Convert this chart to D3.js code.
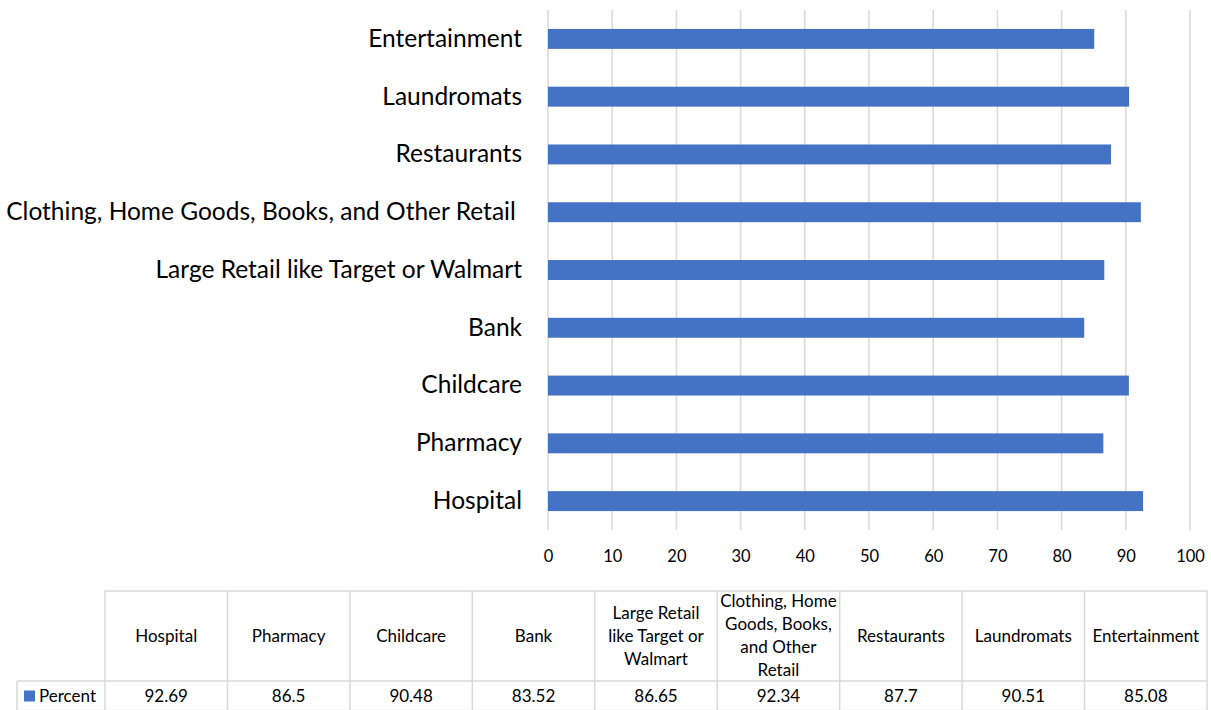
<!DOCTYPE html>
<html>
<head>
<meta charset="utf-8">
<script src="https://cdn.jsdelivr.net/npm/d3@7"></script>
<style>
  html, body { margin: 0; padding: 0; background: #fff; }
  svg { display: block; font-family: Lato, "Open Sans", sans-serif; }
</style>
</head>
<body>
<svg id="chart" width="1211" height="710"></svg>
<script>
// Share of respondents (percent) by type of place
const categories = ["Hospital", "Pharmacy", "Childcare", "Bank", "Large Retail like Target or Walmart",
  "Clothing, Home Goods, Books, and Other Retail ", "Restaurants", "Laundromats", "Entertainment"];
const percentValues = [92.69, 86.5, 90.48, 83.52, 86.65, 92.34, 87.7, 90.51, 85.08];
const valueLabels = ["92.69", "86.5", "90.48", "83.52", "86.65", "92.34", "87.7", "90.51", "85.08"];
const tableHeaders = ["Hospital", "Pharmacy", "Childcare", "Bank", "Large Retail\nlike Target or\nWalmart",
  "Clothing, Home\nGoods, Books,\nand Other\nRetail", "Restaurants", "Laundromats", "Entertainment"];
const seriesName = "Percent";
const xTicks = [0, 10, 20, 30, 40, 50, 60, 70, 80, 90, 100];

const barColor = "#4472C4";
const gridColor = "#d9d9d9";
const svg = d3.select("#chart");

// ---- bar chart ----
const plot = { left: 548, right: 1190, top: 10, bottom: 530 };
const x = d3.scaleLinear().domain([0, 100]).range([plot.left, plot.right]);
const y = d3.scaleBand()
  .domain(categories.slice().reverse())
  .range([plot.top, plot.bottom])
  .paddingInner(0.655).paddingOuter(0.3275);

// vertical gridlines
svg.append("g").selectAll("line").data(xTicks).join("line")
  .attr("x1", d => x(d)).attr("x2", d => x(d))
  .attr("y1", plot.top).attr("y2", plot.bottom)
  .attr("stroke", gridColor).attr("stroke-width", 1.5);

// bars
svg.append("g").selectAll("rect").data(categories).join("rect")
  .attr("x", x(0))
  .attr("y", d => y(d))
  .attr("width", (d, i) => x(percentValues[i]) - x(0))
  .attr("height", y.bandwidth())
  .attr("fill", barColor);

// category axis
const yAxis = svg.append("g")
  .attr("transform", `translate(${plot.left},0)`)
  .call(d3.axisLeft(y).tickSize(0).tickPadding(26));
yAxis.select(".domain").remove();
yAxis.selectAll("text")
  .style("white-space", "pre")
  .attr("font-size", 24.5)
  .attr("fill", "#000")
  .attr("font-family", "Lato, sans-serif");

// value axis
const xAxis = svg.append("g")
  .attr("transform", `translate(0,${plot.bottom})`)
  .call(d3.axisBottom(x).tickValues(xTicks).tickSize(0).tickPadding(20).tickFormat(d3.format("d")));
xAxis.select(".domain").remove();
xAxis.selectAll("text")
  .attr("font-size", 16.5)
  .attr("fill", "#000")
  .attr("font-family", "Lato, sans-serif");

// ---- data table ----
const table = { left: 17, firstCol: 105, right: 1207, top: 591, mid: 681, bottom: 711 };
const col = d3.scaleBand().domain(categories).range([table.firstCol, table.right]);
const tg = svg.append("g");
const border = { stroke: gridColor, "stroke-width": 1.5 };
function line(x1, y1, x2, y2) {
  const l = tg.append("line").attr("x1", x1).attr("y1", y1).attr("x2", x2).attr("y2", y2);
  Object.entries(border).forEach(([k, v]) => l.attr(k, v));
}
line(table.firstCol, table.top, table.right, table.top);
line(table.left, table.mid, table.right, table.mid);
line(table.left, table.bottom - 0.5, table.right, table.bottom - 0.5);
line(table.left, table.mid, table.left, table.bottom);
categories.forEach(c => line(col(c), table.top, col(c), table.bottom));
line(table.right, table.top, table.right, table.bottom);

const lineH = 23;
const fs = 17;
// header labels
tg.selectAll("text.head").data(categories).join("text")
  .attr("class", "head")
  .attr("text-anchor", "middle")
  .attr("font-size", fs)
  .attr("fill", "#000")
  .each(function (d, i) {
    const lines = tableHeaders[i].split("\n");
    const cx = col(d) + col.bandwidth() / 2;
    const cy = (table.top + table.mid) / 2;
    const y0 = cy - (lines.length - 1) * lineH / 2;
    d3.select(this).selectAll("tspan").data(lines).join("tspan")
      .attr("x", cx)
      .attr("y", (t, k) => y0 + k * lineH)
      .attr("dy", "0.35em")
      .text(t => t);
  });

// value row
tg.selectAll("text.val").data(categories).join("text")
  .attr("class", "val")
  .attr("x", d => col(d) + col.bandwidth() / 2)
  .attr("y", (table.mid + table.bottom) / 2)
  .attr("dy", "0.35em")
  .attr("text-anchor", "middle")
  .attr("font-size", fs)
  .attr("fill", "#000")
  .text((d, i) => valueLabels[i]);

// legend key
const ly = (table.mid + table.bottom) / 2;
tg.append("rect").attr("x", 24).attr("y", ly - 5.5).attr("width", 11).attr("height", 11).attr("fill", barColor);
tg.append("text").attr("x", 39).attr("y", ly).attr("dy", "0.35em")
  .attr("font-size", fs).attr("fill", "#000").text(seriesName);
</script>
</body>
</html>
